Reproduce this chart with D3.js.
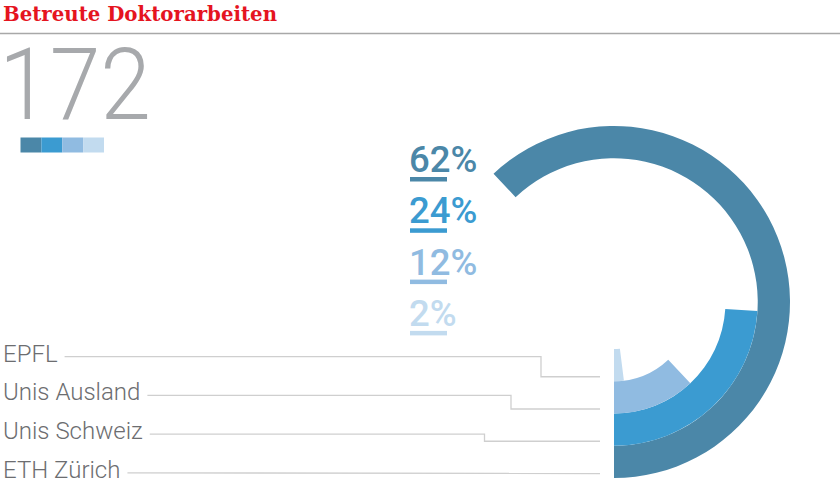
<!DOCTYPE html>
<html><head><meta charset="utf-8">
<script src="https://cdn.jsdelivr.net/npm/d3@7"></script>
<style>body{margin:0;background:#fff}svg{display:block}</style>
</head><body>
<svg id="c" width="840" height="483"></svg>
<script>
const title = "Betreute Doktorarbeiten";
const total = 172;
const categories = ["ETH Zürich", "Unis Schweiz", "Unis Ausland", "EPFL"];
const shares = [62, 24, 12, 2];
const colors = ["#4b87a8", "#3b9bd1", "#90bbe1", "#c2dbef"];
const percentLabels = ["62%", "24%", "12%", "2%"];

const svg = d3.select("#c");
const W = 840, H = 483;

// title
svg.append("text").attr("x", 3).attr("y", 20.5)
  .attr("font-family", "DejaVu Serif").attr("font-weight", "bold")
  .attr("font-size", 20).attr("fill", "#e5141f")
  .attr("textLength", 274).attr("lengthAdjust", "spacingAndGlyphs")
  .text(title);
svg.append("line").attr("x1", 0).attr("x2", W).attr("y1", 33.5).attr("y2", 33.5)
  .attr("stroke", "#a8a8a8").attr("stroke-width", 1.3);

// big number
svg.append("text").attr("x", -1).attr("y", 118.5)
  .attr("font-family", "Roboto").attr("font-weight", 300)
  .attr("font-size", 100).attr("fill", "#a7a9ac")
  .attr("textLength", 152).attr("lengthAdjust", "spacingAndGlyphs")
  .text(total);

// legend bar
const lx = d3.scaleBand().domain(categories).range([20.5, 104]);
svg.append("g").selectAll("rect").data(categories).join("rect")
  .attr("x", d => lx(d)).attr("y", 137.5).attr("width", lx.bandwidth()).attr("height", 15)
  .attr("fill", (d, i) => colors[i]);

// radial bars
const cx = 614, cy = 302;
const r = d3.scaleBand().domain(categories.slice().reverse()).range([47, 176]).padding(0);
const ang = d3.scaleLinear().domain([0, 100]).range([Math.PI, -Math.PI]);
const arc = d3.arc()
  .innerRadius(d => r(d.cat))
  .outerRadius(d => r(d.cat) + r.bandwidth())
  .startAngle(Math.PI)
  .endAngle(d => ang(d.v));
const arcData = categories.map((c, i) => ({cat: c, v: shares[i], col: colors[i]}));
svg.append("g").attr("transform", `translate(${cx},${cy})`)
  .selectAll("path").data(arcData).join("path")
  .attr("d", arc).attr("fill", d => d.col);

// percent labels
const py = d3.scaleBand().domain(categories).range([172, 377.2]);
const pg = svg.append("g");
categories.forEach((c, i) => {
  pg.append("text").attr("x", 409).attr("y", py(c))
    .attr("font-family", "Roboto").attr("font-weight", 500)
    .attr("font-size", 36.5).attr("fill", colors[i]).text(percentLabels[i]);
  pg.append("rect").attr("x", 410).attr("y", py(c) + 5).attr("width", 37).attr("height", 4.5)
    .attr("fill", colors[i]);
});

// category labels with leader lines
const labelOrder = ["EPFL", "Unis Ausland", "Unis Schweiz", "ETH Zürich"];
const ly = d3.scaleBand().domain(labelOrder).range([361.7, 516.5]);
const elbowX = {"EPFL": 541, "Unis Ausland": 511, "Unis Schweiz": 484.5, "ETH Zürich": null};
const lg = svg.append("g");
labelOrder.forEach(c => {
  const y = ly(c);
  const t = lg.append("text").attr("x", 3).attr("y", y)
    .attr("font-family", "Roboto").attr("font-weight", 300)
    .attr("font-size", 24).attr("fill", "#6c6d70").text(c);
  const w = t.node().getComputedTextLength();
  const y0 = y - 5;
  const y1 = cy + r(c) + r.bandwidth() - 4.5;
  const x0 = 3 + w + 7;
  const ex = elbowX[c];
  const pts = ex == null ? [[x0, y0], [600, y1]] : [[x0, y0], [ex, y0], [ex, y1], [600, y1]];
  lg.append("path").attr("d", d3.line()(pts)).attr("fill", "none")
    .attr("stroke", "#cfcfcf").attr("stroke-width", 1.3);
});
</script>
</body></html>
